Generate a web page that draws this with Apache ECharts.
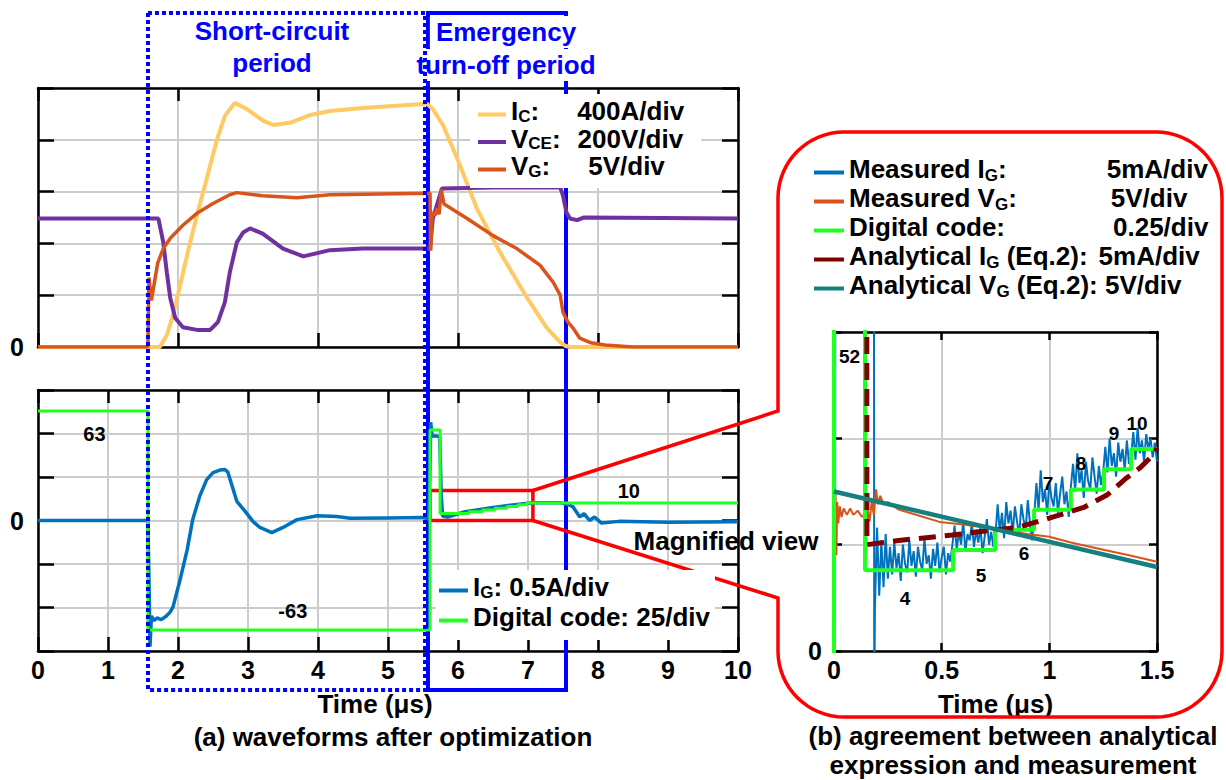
<!DOCTYPE html>
<html><head><meta charset="utf-8">
<script src="https://cdn.jsdelivr.net/npm/echarts/dist/echarts.min.js"></script>
<style>html,body{margin:0;padding:0;background:#fff}#c{width:1226px;height:780px}</style>
</head><body><div id="c"></div>
<script>
// ================= DATA =================
// (a) top panel: time in us, I_C in A, V_CE in V, V_G in V
const icData = [[0,0],[1.74,0],[1.84,92],[1.93,246],[2.03,477],[2.14,731],[2.27,1015],[2.41,1300],[2.56,1608],[2.67,1785],[2.81,1885],[2.98,1838],[3.22,1746],[3.36,1715],[3.60,1731],[3.89,1792],[4.17,1823],[4.64,1846],[5.50,1877],[5.56,1877],[5.64,1838],[5.79,1708],[5.99,1454],[6.27,1069],[6.60,731],[6.99,377],[7.27,146],[7.46,38],[7.53,10],[7.60,0],[10,0]];
const vceData = [[0,496],[1.72,496],[1.79,404],[1.84,288],[1.89,188],[1.96,112],[2.07,76],[2.27,66],[2.46,66],[2.57,96],[2.67,173],[2.74,288],[2.84,404],[2.93,442],[3.03,458],[3.21,438],[3.50,380],[3.79,350],[4.17,374],[4.64,380],[5.60,380],[5.64,496],[5.71,558],[5.77,612],[6.50,616],[7.46,616],[7.50,585],[7.55,519],[7.60,496],[7.70,490],[7.80,500],[10,496]];
const vgData = [[0,0],[1.57,0],[1.585,6.7],[1.62,4.5],[1.71,8.1],[1.79,9.5],[1.89,10.5],[2.07,11.75],[2.27,12.9],[2.50,13.85],[2.74,14.7],[2.84,14.9],[3.21,14.6],[3.70,14.4],[4.17,14.7],[5.60,14.85],[5.61,9.3],[5.63,13.0],[5.67,12.7],[5.70,13.4],[5.73,12.8],[5.76,15.2],[5.80,13.8],[6.13,12.4],[6.50,10.75],[6.84,9.5],[7.17,7.9],[7.36,6.25],[7.46,5.0],[7.50,3.35],[7.57,2.4],[7.64,1.85],[7.74,0.85],[7.90,0.4],[8.10,0.2],[8.50,0],[10,0]];
// (a) bottom panel: I_G in A, digital code
const igData = [[0,0],[1.57,0],[1.59,-0.9],[1.60,-1.45],[1.62,-1.10],[1.66,-1.15],[1.70,-1.12],[1.76,-1.14],[1.83,-1.10],[1.89,-1.05],[1.93,-0.99],[2.03,-0.68],[2.13,-0.34],[2.21,0.01],[2.31,0.28],[2.41,0.47],[2.50,0.55],[2.60,0.58],[2.67,0.585],[2.71,0.56],[2.78,0.38],[2.84,0.22],[2.96,0.105],[3.07,-0.01],[3.17,-0.08],[3.34,-0.14],[3.50,-0.08],[3.70,0.01],[3.99,0.055],[4.27,0.045],[4.46,0.025],[5.00,0.03],[5.50,0.035],[5.58,0.02],[5.60,0.6],[5.61,1.13],[5.63,0.97],[5.70,0.97],[5.74,0.96],[5.76,0.3],[5.78,0.05],[5.85,0.04],[6.10,0.10],[6.50,0.15],[6.84,0.185],[7.07,0.205],[7.46,0.205],[7.55,0.19],[7.64,0.16],[7.74,0.04],[7.80,0.08],[7.88,0.0],[7.95,0.04],[8.05,-0.03],[8.30,-0.01],[9.00,-0.02],[10,-0.015]];
const codeATimes = [0, 1.571, 5.6, 5.744, 6.153, 6.348, 6.529, 6.70, 6.854, 6.98, 10];
const codeAValues = [63, -63, 52, 4, 5, 6, 7, 8, 9, 10, 10];
// (b) magnified view: time in us, currents in mA, voltages in V
const magCodeTimes = [0, 0, 0.144, 0.553, 0.748, 0.929, 1.10, 1.254, 1.38, 1.5];
const magCodeValues = [-63, 52, 4, 5, 6, 7, 8, 9, 10, 10];
const magIgHead = [[0,0],[0.005,0],[0.007,40],[0.184,40],[0.187,-3]];
const magIgStart = 0.19, magIgStep = 0.01;
const magIgValues = [2.0,5.8,2.6,5.2,3.0,5.5,3.4,
 4.9,3.6,5.1,3.9,4.6,3.3,5.0,4.1,3.7,5.2,4.0,4.7,3.5,4.9,4.2,3.8,5.3,4.1,4.5,3.4,4.8,4.0,5.1,3.7,4.4,4.9,3.6,4.6,4.2,5.0,
 5.9,4.8,5.6,5.0,6.1,4.7,5.5,5.2,6.0,4.9,5.7,5.1,5.8,4.6,5.4,6.2,5.0,5.6,4.9,5.5,
 6.9,5.6,6.5,5.3,7.0,6.0,6.6,5.5,6.8,6.1,5.4,6.9,6.2,5.7,7.1,6.0,5.2,6.4,
 7.9,6.6,8.5,7.0,7.6,6.4,8.0,7.2,6.8,7.9,6.5,7.4,8.2,6.9,7.5,6.3,7.7,
 8.8,7.5,9.3,7.9,8.5,7.2,8.9,8.0,7.6,9.1,8.2,7.4,8.7,7.8,8.4,
 9.6,8.4,10.0,8.7,9.3,8.2,9.8,8.9,9.5,8.5,9.9,8.8,9.2,
 10.3,9.0,10.5,9.3,9.9,8.9,10.2,9.5,10.0,9.1,9.8,8.9];
const magVgData = [[0,7.3],[0.004,5.8],[0.007,7.4],[0.011,4.5],[0.015,7.0],[0.02,6.0],[0.027,6.8],[0.035,6.3],[0.045,6.7],[0.06,6.4],[0.075,6.7],[0.09,6.4],[0.11,6.6],[0.13,6.3],[0.145,6.5],[0.15,5.6],[0.155,6.7],[0.165,6.1],[0.175,7.0],[0.185,6.4],[0.195,7.6],[0.205,6.9],[0.215,7.3],[0.23,6.9],[0.25,7.0],[0.30,6.65],[0.40,6.35],[0.49,6.07],[0.60,5.95],[0.77,5.7],[0.90,5.5],[1.00,5.37],[1.10,5.1],[1.235,4.8],[1.37,4.5],[1.50,4.2]];
const magAnaIgData = [[0.150,60],[0.153,5.0],[0.30,5.2],[0.55,5.45],[0.75,5.7],[0.85,5.8],[1.00,6.25],[1.16,6.75],[1.27,7.35],[1.36,8.15],[1.42,8.6],[1.48,9.2],[1.50,9.55]];
const magAnaVgData = [[0,7.5],[1.5,3.95]];
// marked periods (us)
const shortCircuitPeriod = [1.571, 5.529];
const turnOffPeriod = [5.571, 7.543];
// magnified window (us, A)
const magWindow = {t0: 5.6, t1: 7.07, i0: 0, i1: 0.345};
// code annotations: [text, time, code]
const codeNotesA = [['63',0.807,49.6],['-63',3.64,-52],['10',8.44,16.9]];
const codeNotesB = [['52',0.072,14.6],['4',0.33,2.6],['5',0.683,3.76],['6',0.882,4.83],['7',0.994,8.29],['8',1.147,9.28],['9',1.30,10.77],['10',1.407,11.26]];

// ================= BUILD =================
const F = "'Liberation Sans', Arial, Helvetica, sans-serif";
const codeA = codeATimes.map((t,i)=>[t, codeAValues[i]]);
const magCode = magCodeTimes.map((t,i)=>[t, magCodeValues[i]]);
const magIg = magIgHead.concat(magIgValues.map((v,i)=>[+(magIgStart + i*magIgStep).toFixed(3), v]));

const chart = echarts.init(document.getElementById('c'), null, {renderer:'svg', width:1226, height:780});
const gridLine = {show:true, lineStyle:{color:'#cccccc', width:2}};
const axLine = {show:true, onZero:false, lineStyle:{color:'#000', width:2.5}};
const tick = len => ({show:true, inside:true, length:len, lineStyle:{color:'#000', width:2.5}});
const lbl = {fontFamily:F, fontWeight:'bold', fontSize:25, color:'#000'};
const zeroOnly = v => (Math.abs(v) < 1e-9 ? '0' : '');
const nameStyle = {fontFamily:F, fontWeight:'bold', fontSize:26, color:'#000', lineHeight:26};

function xAx(gi, max, interval, pos, len, labels, extra) {
  return Object.assign({gridIndex:gi, type:'value', min:0, max:max, interval:interval, position:pos,
    axisLine:axLine, axisTick:tick(len),
    axisLabel: labels ? Object.assign({}, lbl, {margin:6}) : {show:false},
    splitLine: pos === 'bottom' ? gridLine : {show:false}}, extra || {});
}
function yAx(gi, min, max, interval, pos, len, margin) {
  return {gridIndex:gi, type:'value', min:min, max:max, interval:interval, position:pos,
    axisLine:axLine, axisTick:tick(len),
    axisLabel: pos === 'left' ? Object.assign({}, lbl, {margin:margin, formatter:zeroOnly}) : {show:false},
    splitLine: pos === 'left' ? gridLine : {show:false}};
}
const hiddenY = (gi, min, max) => ({gridIndex:gi, type:'value', min:min, max:max, show:false});

// rich text: main tokens padded at the bottom, subscript tokens bottom-aligned
const rich = (size, lh, gaps) => {
  const r = {
    a:{fontFamily:F, fontWeight:'bold', fontSize:size, lineHeight:lh-7, padding:[0,0,7,0], color:'#000'},
    s:{fontFamily:F, fontWeight:'bold', fontSize:17, lineHeight:17, color:'#000', verticalAlign:'bottom'}
  };
  Object.keys(gaps).forEach(k => { r[k] = {width:gaps[k], fontSize:size, lineHeight:lh-7, padding:[0,0,7,0]}; });
  return r;
};
const legTop = {
  'I_C':'{a|I}{s|C}{a|:}{g1| }{a|400A/div}',
  'V_CE':'{a|V}{s|CE}{a|:}{g2| }{a|200V/div}',
  'V_G':'{a|V}{s|G}{a|:}{g3| }{a|5V/div}'
};
const legBot = {
  'I_G':'{a|I}{s|G}{a|: 0.5A/div}',
  'Digital code (a)':'{a|Digital code: 25/div}'
};
const legMag = {
  'Measured I_G':'{a|Measured I}{s|G}{a|:}{h1| }{a|5mA/div}',
  'Measured V_G':'{a|Measured V}{s|G}{a|:}{h2| }{a|5V/div}',
  'Digital code (b)':'{a|Digital code:}{h3| }{a|0.25/div}',
  'Analytical I_G (Eq.2)':'{a|Analytical I}{s|G}{a| (Eq.2):}{h4| }{a|5mA/div}',
  'Analytical V_G (Eq.2)':'{a|Analytical V}{s|G}{a| (Eq.2): 5V/div}'
};
const legBase = {orient:'vertical', itemHeight:4, icon:'rect', selectedMode:false};

function line(name, xi, yi, data, color, width, extra) {
  return Object.assign({type:'line', name:name, xAxisIndex:xi, yAxisIndex:yi, data:data,
    symbol:'none', showSymbol:false, silent:true, animation:false,
    itemStyle:{color:color}, lineStyle:{color:color, width:width}}, extra || {});
}

const option = {
  animation:false,
  backgroundColor:'#fff',
  grid:[
    {left:38, top:88, width:700, height:259},
    {left:38, top:390, width:700, height:261},
    {left:834, top:332, width:323, height:319}
  ],
  xAxis:[
    xAx(0, 10, 2, 'bottom', 14, false),
    xAx(0, 10, 2, 'top', 13, false),
    xAx(1, 10, 1, 'bottom', 14, true, {name:'Time (μs)', nameLocation:'middle', nameGap:40, nameTextStyle:Object.assign({}, nameStyle, {padding:[0,26,0,0]})}),
    xAx(1, 10, 1, 'top', 13, false),
    xAx(2, 1.5, 0.5, 'bottom', 8, true, {name:'Time (μs)', nameLocation:'middle', nameGap:40, nameTextStyle:nameStyle}),
    xAx(2, 1.5, 0.5, 'top', 8, false)
  ],
  yAxis:[
    yAx(0, 0, 2000, 400, 'left', 16, 14),
    hiddenY(0, 0, 1000),
    hiddenY(0, 0, 25),
    yAx(0, 0, 2000, 400, 'right', 16),
    yAx(1, -1.5, 1.5, 0.5, 'left', 16, 14),
    hiddenY(1, -75, 75),
    yAx(1, -1.5, 1.5, 0.5, 'right', 16),
    yAx(2, 0, 15, 5, 'left', 8, 12),
    hiddenY(2, 0, 15.8),
    yAx(2, 0, 15, 5, 'right', 8)
  ],
  legend:[
    Object.assign({}, legBase, {data:['I_C','V_CE','V_G'], left:470, top:94, padding:[4,17,2,8], itemWidth:28, itemGap:-5.5,
      backgroundColor:'#fff', formatter:n=>legTop[n],
      textStyle:{fontFamily:F, fontWeight:'bold', fontSize:26, color:'#000', rich:rich(26, 27, {g1:38, g2:17, g3:38})}}),
    Object.assign({}, legBase, {data:['I_G','Digital code (a)'], left:436, top:570, padding:[4,5,3,3], itemWidth:29, itemGap:-3,
      backgroundColor:'#fff', formatter:n=>legBot[n],
      textStyle:{fontFamily:F, fontWeight:'bold', fontSize:26, color:'#000', rich:rich(26, 28, {})}}),
    Object.assign({}, legBase, {data:['Measured I_G','Measured V_G','Digital code (b)','Analytical I_G (Eq.2)','Analytical V_G (Eq.2)'],
      left:814, top:156, padding:0, itemWidth:30, itemGap:-4, formatter:n=>legMag[n],
      textStyle:{fontFamily:F, fontWeight:'bold', fontSize:26, color:'#000', rich:rich(26, 29, {h1:100, h2:94, h3:108, h4:11})}})
  ],
  series:[
    line('I_C', 0, 0, icData, '#ffc964', 4),
    line('V_CE', 0, 1, vceData, '#7030a0', 4),
    line('V_G', 0, 2, vgData, '#d9541a', 3.5),
    line('I_G', 2, 4, igData, '#0072bd', 3.5),
    line('Digital code (a)', 2, 5, codeA, '#22ff22', 3, {step:'end'}),
    line('Measured I_G', 4, 7, magIg, '#0072bd', 2),
    line('Measured V_G', 4, 7, magVgData, '#d9541a', 2),
    line('Digital code (b)', 4, 8, magCode, '#22ff22', 4, {step:'end'}),
    line('Analytical I_G (Eq.2)', 4, 7, magAnaIgData, '#800000', 5, {lineStyle:{color:'#800000', width:5, type:[17,9]}}),
    line('Analytical V_G (Eq.2)', 4, 7, magAnaVgData, '#16807f', 4.5)
  ]
};
chart.setOption(option);

// ================= ANNOTATIONS =================
const px = (xi, yi, p) => chart.convertToPixel({xAxisIndex:xi, yAxisIndex:yi}, p);
const baseTextStyle = (text, x, y, size, color) => ({text:text, x:x, y:y, align:'center', textAlign:'center',
  verticalAlign:'middle', textVerticalAlign:'middle', fontFamily:F, fontWeight:'bold', fontSize:size, fill:color});
const txt = (text, x, y, size, color, z, extraStyle) => ({type:'text', z:z || 6, silent:true,
  style:Object.assign(baseTextStyle(text, x, y, size, color), extraStyle || {})});

const s0 = px(2,4,[shortCircuitPeriod[0],0])[0], s1 = px(2,4,[shortCircuitPeriod[1],0])[0];
const e0 = px(2,4,[turnOffPeriod[0],0])[0], e1 = px(2,4,[turnOffPeriod[1],0])[0];
const boxTop = 13, boxBot = 690;
const w0 = px(2,4,[magWindow.t0, magWindow.i1]);
const w1 = px(2,4,[magWindow.t1, magWindow.i0]);

// rounded callout frame (layout only)
const L = 778, T = 132, R = 1222, B = 717, rr = 66;
function arc(cx, cy, a0, a1) {
  const pts = [];
  for (let k = 0; k <= 16; k++) { const a = a0 + (a1 - a0) * k / 16; pts.push([cx + rr * Math.cos(a), cy + rr * Math.sin(a)]); }
  return pts;
}
const P = Math.PI;
const callout = [[w1[0], w0[1]], [L, 411]]
  .concat(arc(L+rr, T+rr, P, 1.5*P))
  .concat(arc(R-rr, T+rr, 1.5*P, 2*P))
  .concat(arc(R-rr, B-rr, 0, 0.5*P))
  .concat(arc(L+rr, B-rr, 0.5*P, P))
  .concat([[L, 598], [w1[0], w1[1]]]);

const g = [];
g.push({type:'rect', z:3, silent:true, shape:{x:e0, y:boxTop, width:e1-e0, height:boxBot-boxTop}, style:{fill:'none', stroke:'#0000ff', lineWidth:4}});
g.push(txt('Emergency', 506, 32, 26, '#0000ff', 3.3, {backgroundColor:'#fff', padding:[3,6]}));
g.push(txt('turn-off period', 506, 65, 26, '#0000ff', 3.3, {backgroundColor:'#fff', padding:[3,2]}));
g.push({type:'rect', z:3.6, silent:true, shape:{x:s0, y:boxTop, width:s1-s0, height:boxBot-boxTop}, style:{fill:'none', stroke:'#0000ff', lineWidth:4, lineDash:[4,3]}});
g.push(txt('Short-circuit', 272, 31, 26, '#0000ff'));
g.push(txt('period', 272, 63, 26, '#0000ff'));
g.push({type:'rect', z:3, silent:true, shape:{x:w0[0], y:w0[1], width:w1[0]-w0[0], height:w1[1]-w0[1]}, style:{fill:'none', stroke:'#ff0000', lineWidth:3.5}});
g.push({type:'polyline', z:3, silent:true, shape:{points:callout}, style:{fill:'none', stroke:'#ff0000', lineWidth:3.5}});
g.push(txt('Magnified view', 726, 541, 26, '#000'));
codeNotesA.forEach(n => { const p = px(2,5,[n[1],n[2]]); g.push(txt(n[0], p[0], p[1], 20, '#000')); });
codeNotesB.forEach(n => { const p = px(4,8,[n[1],n[2]]); g.push(txt(n[0], p[0], p[1], 19, '#000')); });
g.push(txt('(a) waveforms after optimization', 393, 737, 26, '#000'));
g.push(txt('(b) agreement between analytical', 1013, 736, 26, '#000'));
g.push(txt('expression and measurement', 1013, 765, 26, '#000'));

chart.setOption({graphic:{elements:g}});
</script>
</body></html>
